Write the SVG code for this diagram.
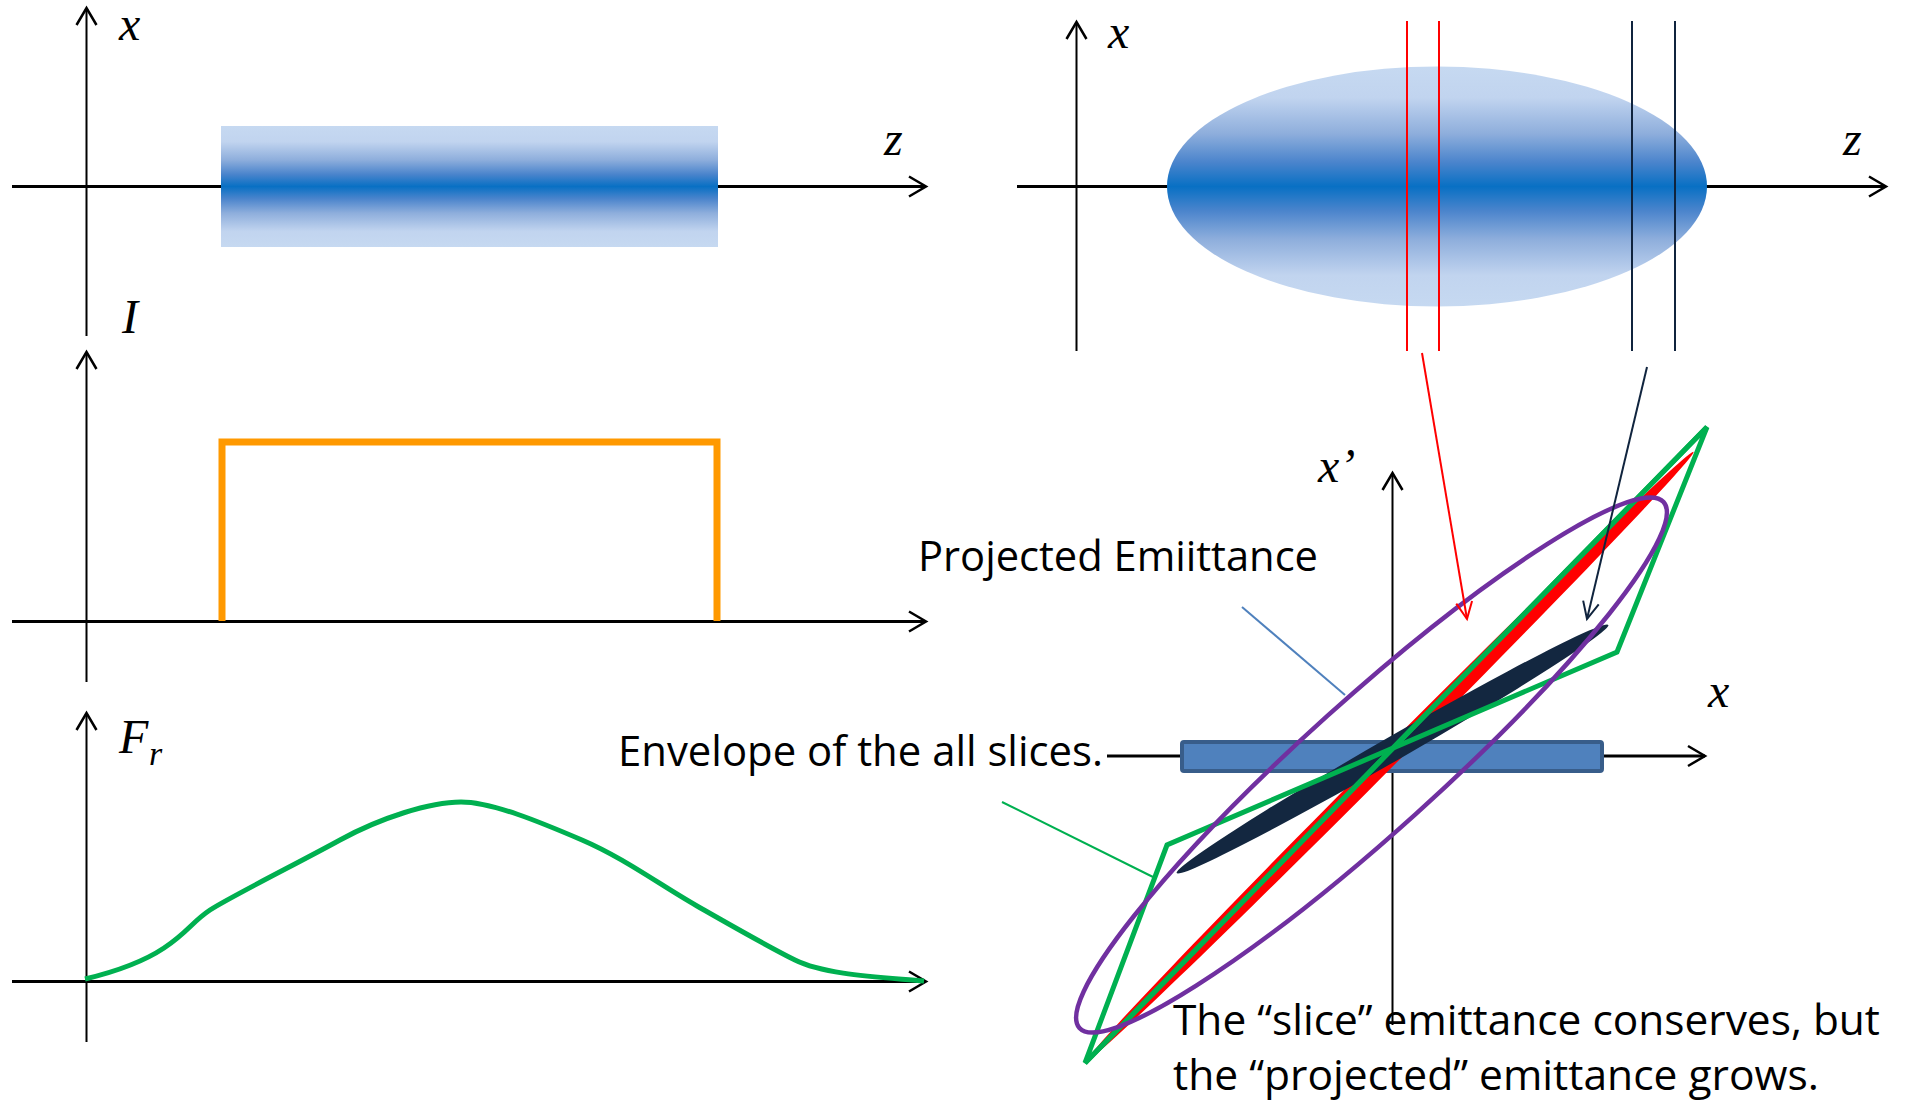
<svg xmlns="http://www.w3.org/2000/svg" width="1905" height="1102" viewBox="0 0 1905 1102">
<style>
.ax{stroke:#000;stroke-width:2;fill:none}
.axh{stroke:#000;stroke-width:3;fill:none}
.math{font-family:"Liberation Serif","Times New Roman",serif;font-style:italic;font-size:48px;fill:#000}
.lbl{font-family:"Open Sans","Noto Sans",sans-serif;font-size:42px;fill:#000}
</style>
<defs>
<linearGradient id="beam" x1="0" y1="0" x2="0" y2="1">
<stop offset="0" stop-color="#C6D9F1"/>
<stop offset="0.13" stop-color="#C1D4EF"/>
<stop offset="0.28" stop-color="#8EAEDC"/>
<stop offset="0.4" stop-color="#4A84CC"/>
<stop offset="0.5" stop-color="#0870C4"/>
<stop offset="0.6" stop-color="#4A84CC"/>
<stop offset="0.72" stop-color="#8EAEDC"/>
<stop offset="0.87" stop-color="#C1D4EF"/>
<stop offset="1" stop-color="#C6D9F1"/>
</linearGradient>
<marker id="ahK" markerUnits="userSpaceOnUse" viewBox="-20 -15 25 30" markerWidth="25" markerHeight="30" refX="0" refY="0" orient="auto" overflow="visible">
<path d="M-17,-10 L0,0 L-17,10" fill="none" stroke="#000" stroke-width="2.5"/>
</marker>
<marker id="ahR" markerUnits="userSpaceOnUse" viewBox="-20 -15 25 30" markerWidth="25" markerHeight="30" refX="0" refY="0" orient="auto" overflow="visible">
<path d="M-17,-8 L0,0 L-17,8" fill="none" stroke="#FF0000" stroke-width="2"/>
</marker>
<marker id="ahN" markerUnits="userSpaceOnUse" viewBox="-20 -15 25 30" markerWidth="25" markerHeight="30" refX="0" refY="0" orient="auto" overflow="visible">
<path d="M-17,-8 L0,0 L-17,8" fill="none" stroke="#10243E" stroke-width="2"/>
</marker>
</defs>
<rect width="1905" height="1102" fill="#fff"/>

<g id="panel-xz-uniform">
<line class="axh" x1="12" y1="186.5" x2="926" y2="186.5" marker-end="url(#ahK)"/>
<line class="ax" x1="86.5" y1="336" x2="86.5" y2="8" marker-end="url(#ahK)"/>
<rect x="221" y="126" width="497" height="121" fill="url(#beam)"/>
<text class="math" x="119" y="40" font-size="40">x</text>
<text class="math" x="884" y="155">z</text>
</g>

<g id="panel-current">
<line class="axh" x1="12" y1="621.5" x2="926" y2="621.5" marker-end="url(#ahK)"/>
<line class="ax" x1="86.5" y1="682" x2="86.5" y2="352" marker-end="url(#ahK)"/>
<path d="M222,621 V442 H717 V621" fill="none" stroke="#FF9900" stroke-width="7"/>
<text class="math" x="122" y="333">I</text>
</g>

<g id="panel-force">
<line class="axh" x1="12" y1="981.5" x2="926" y2="981.5" marker-end="url(#ahK)"/>
<line class="ax" x1="86.5" y1="1042" x2="86.5" y2="713" marker-end="url(#ahK)"/>
<path d="M85,979 C110,973 140,964 164,948 S192,922 210,910 S300,862 340,840 S430,802 461,802 S540,822 582,840 S660,885 697,906 S765,945 795,960 S880,977 924,981" fill="none" stroke="#00B050" stroke-width="5"/>
<text class="math" x="119" y="753">F<tspan font-size="34" x="149" y="765">r</tspan></text>
</g>

<g id="panel-xz-ellipse">
<line class="axh" x1="1017" y1="186.5" x2="1886" y2="186.5" marker-end="url(#ahK)"/>
<line class="ax" x1="1076.5" y1="351" x2="1076.5" y2="22" marker-end="url(#ahK)"/>
<ellipse cx="1437" cy="186.5" rx="270" ry="120" fill="url(#beam)"/>
<line x1="1407" y1="21" x2="1407" y2="351" stroke="#FF0000" stroke-width="2"/>
<line x1="1439" y1="21" x2="1439" y2="351" stroke="#FF0000" stroke-width="2"/>
<line x1="1632" y1="21" x2="1632" y2="351" stroke="#10243E" stroke-width="2"/>
<line x1="1675" y1="21" x2="1675" y2="351" stroke="#10243E" stroke-width="2"/>
<text class="math" x="1108" y="48">x</text>
<text class="math" x="1843" y="155">z</text>
</g>

<g id="panel-phase-space">
<line class="ax" x1="1392.5" y1="1025" x2="1392.5" y2="473" marker-end="url(#ahK)"/>
<line class="axh" x1="1107" y1="756" x2="1705" y2="756" marker-end="url(#ahK)"/>
<rect x="1182" y="742" width="420" height="29" rx="2" fill="#4F81BD" stroke="#385D8A" stroke-width="4"/>
<ellipse cx="1390" cy="756.5" rx="430" ry="9" transform="rotate(-45.1 1390 756.5)" fill="#FF0000"/>
<ellipse cx="1392.5" cy="749" rx="249" ry="12" transform="rotate(-29.9 1392.5 749)" fill="#132740"/>
<polygon points="1707,427 1617,652 1167,845 1085,1063" fill="none" stroke="#00B050" stroke-width="5" stroke-linejoin="miter"/>
<line x1="1707" y1="427" x2="1085" y2="1063" stroke="#00B050" stroke-width="5"/>
<ellipse cx="1371.5" cy="765" rx="393" ry="66" transform="rotate(-42 1371.5 765)" fill="none" stroke="#7030A0" stroke-width="4.5"/>
<text class="math" x="1318" y="482">x’</text>
<text class="math" x="1708" y="707">x</text>
</g>

<g id="connectors">
<line x1="1242" y1="607" x2="1345" y2="695" stroke="#4F81BD" stroke-width="2"/>
<line x1="1002" y1="802" x2="1153" y2="877" stroke="#00B050" stroke-width="2"/>
<line x1="1422" y1="353" x2="1467" y2="619" stroke="#FF0000" stroke-width="2" marker-end="url(#ahR)"/>
<line x1="1647" y1="367" x2="1587" y2="619" stroke="#10243E" stroke-width="2" marker-end="url(#ahN)"/>
</g>

<g id="labels">
<text class="lbl" x="918" y="571" textLength="400" lengthAdjust="spacingAndGlyphs">Projected Emiittance</text>
<text class="lbl" x="618" y="766" textLength="485" lengthAdjust="spacingAndGlyphs">Envelope of the all slices.</text>
<text class="lbl" x="1173" y="1035" textLength="707" lengthAdjust="spacingAndGlyphs">The “slice” emittance conserves, but</text>
<text class="lbl" x="1173" y="1090" textLength="646" lengthAdjust="spacingAndGlyphs">the “projected” emittance grows.</text>
</g>
</svg>
